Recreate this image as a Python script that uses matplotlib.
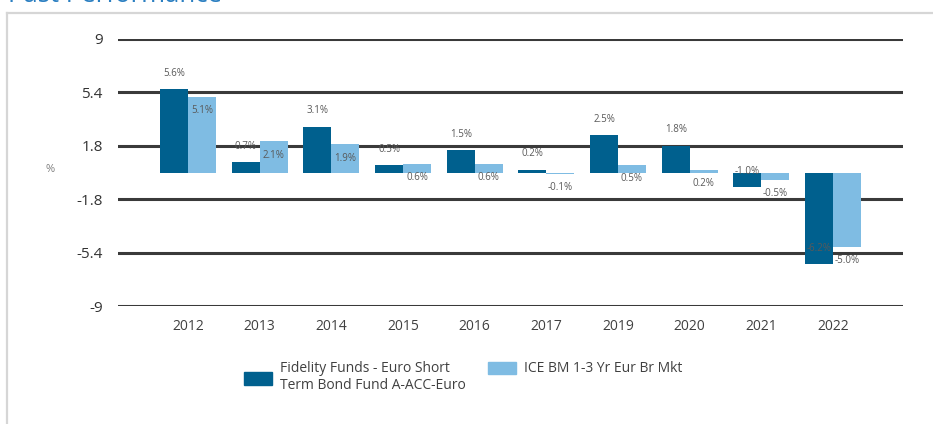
import numpy as np
import matplotlib as mpl
mpl.use("Agg")
import matplotlib.pyplot as plt
from matplotlib.patches import Rectangle
from matplotlib.lines import Line2D

plt.rcParams['font.family'] = ['Open Sans', 'DejaVu Sans']

years = ['2012', '2013', '2014', '2015', '2016', '2017', '2019', '2020', '2021', '2022']
fund = [5.6, 0.7, 3.1, 0.5, 1.5, 0.2, 2.5, 1.8, -1.0, -6.2]
bench = [5.1, 2.1, 1.9, 0.6, 0.6, -0.1, 0.5, 0.2, -0.5, -5.0]
yticks = [9, 5.4, 1.8, -1.8, -5.4, -9]
ytick_labels = ['9', '5.4', '1.8', '-1.8', '-5.4', '-9']
fund_name = "Fidelity Funds - Euro Short\nTerm Bond Fund A-ACC-Euro"
bench_name = "ICE BM 1-3 Yr Eur Br Mkt"

dark = '#00608e'
light = '#7fbce3'
W, H = 933, 424

fig = plt.figure(figsize=(W / 100, H / 100), dpi=100)

# frame and (cut-off) title
fig.add_artist(Line2D([7 / W, 1], [1 - 13 / H, 1 - 13 / H], color='#d6d6d6', lw=1.6))
fig.add_artist(Line2D([7 / W, 7 / W], [0, 1 - 13 / H], color='#d6d6d6', lw=1.6))
fig.text(8 / W, 1 - 1.5 / H, "Past Performance", color='#2b7fc1', fontsize=18.5,
         va='baseline', ha='left')

ax = fig.add_axes([118 / W, 1 - 306 / H, 785 / W, 267 / H])
x = np.arange(len(years))
bw = 0.39
ax.bar(x - bw / 2, fund, bw, color=dark, zorder=3)
ax.bar(x + bw / 2, bench, bw, color=light, zorder=3)

for xi, v in zip(x, fund):
    ax.annotate(f"{v:.1f}%", (xi - bw / 2, v), xytext=(0, 11.5), textcoords='offset points',
                ha='center', va='center', fontsize=7, color='#595959', zorder=5)
for xi, v in zip(x, bench):
    ax.annotate(f"{v:.1f}%", (xi + bw / 2, v), xytext=(0, -10), textcoords='offset points',
                ha='center', va='center', fontsize=7, color='#595959', zorder=5)

ax.set_xlim(-0.977, len(years) - 1 + 0.977)
ax.set_ylim(-9, 9)
ax.set_yticks(yticks)
ax.set_yticklabels(ytick_labels)
ax.set_xticks(x)
ax.set_xticklabels(years)
ax.tick_params(axis='y', length=0, pad=11, labelsize=11, labelcolor='#333333')
ax.tick_params(axis='x', length=0, pad=9, labelsize=10, labelcolor='#404040')
for s in ax.spines.values():
    s.set_visible(False)
for t in yticks:
    ax.axhline(t, color='#3a3a3a', lw=2.2, zorder=1)

fig.text(50 / W, 1 - 170 / H, "%", fontsize=8, color='#7f7f7f', ha='center', va='center')

# legend
fig.add_artist(Rectangle((244 / W, 1 - 385 / H), 28 / W, 13 / H, color=dark))
fig.text(280 / W, 1 - 377 / H, fund_name, fontsize=10, color='#404040',
         ha='left', va='center', linespacing=1.25)
fig.add_artist(Rectangle((488 / W, 1 - 374 / H), 28 / W, 12 / H, color=light))
fig.text(524 / W, 1 - 368 / H, bench_name, fontsize=10, color='#404040',
         ha='left', va='center')

fig.savefig("out.png", dpi=100)
